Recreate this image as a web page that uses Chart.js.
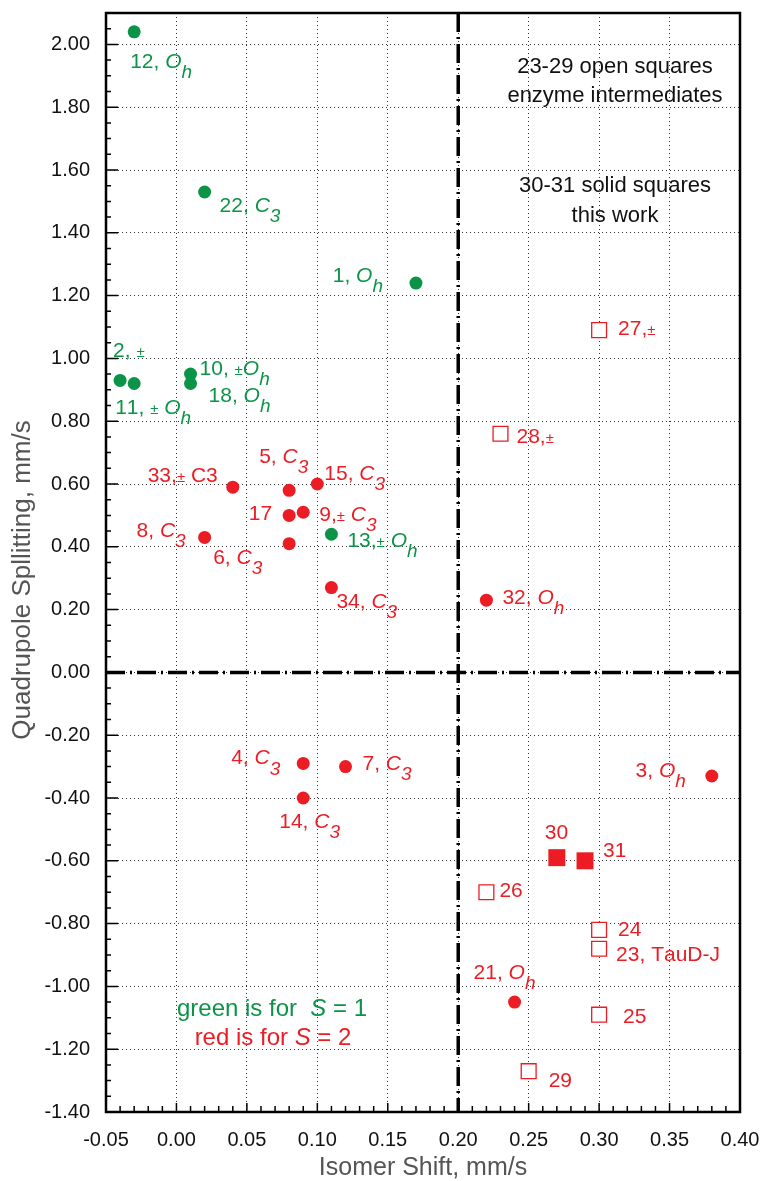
<!DOCTYPE html>
<html lang="en">
<head>
<meta charset="UTF-8">
<title>Isomer shift vs quadrupole splitting</title>
<script src="https://cdn.jsdelivr.net/npm/chart.js"></script>
<style>
  html, body { margin: 0; padding: 0; background: #fff; }
</style>
</head>
<body>
<canvas id="chart" width="762" height="1181"></canvas>
<script>
// ----------- data ------------
// S = 1 (green circles)
const greenIds = ['12', '22', '1', '2', '11', '10', '18', '13'];
const greenX = [-0.03, 0.02, 0.17, -0.04, -0.03, 0.01, 0.01, 0.11];
const greenY = [2.04, 1.53, 1.24, 0.93, 0.92, 0.95, 0.92, 0.44];
const greenLabels = ['12, ~O~_h', '22, ~C~_3', '1, ~O~_h', '2, ±', '11, ± ~O~_h', '10, ±~O~_h', '18, ~O~_h', '13,± ~O~_h'];

// S = 2 (red circles)
const redIds = ['33', '5', '15', '17', '9', '8', '6', '34', '32', '4', '7', '14', '3', '21'];
const redX = [0.04, 0.08, 0.10, 0.08, 0.09, 0.02, 0.08, 0.11, 0.22, 0.09, 0.12, 0.09, 0.38, 0.24];
const redY = [0.59, 0.58, 0.60, 0.50, 0.51, 0.43, 0.41, 0.27, 0.23, -0.29, -0.30, -0.40, -0.33, -1.05];
const redLabels = ['33,± C3', '5, ~C~_3', '15, ~C~_3', '17', '9,± ~C~_3', '8, ~C~_3', '6, ~C~_3', '34, ~C~_3',
    '32, ~O~_h', '4, ~C~_3', '7, ~C~_3', '14, ~C~_3', '3, ~O~_h', '21, ~O~_h'];

// enzyme intermediates (open squares)
const openIds = ['27', '28', '26', '24', '23', '25', '29'];
const openX = [0.30, 0.23, 0.22, 0.30, 0.30, 0.30, 0.25];
const openY = [1.09, 0.76, -0.70, -0.82, -0.88, -1.09, -1.27];
const openLabels = ['27,±', '28,±', '26', '24', '23, TauD-J', '25', '29'];

// this work (solid squares)
const solidIds = ['30', '31'];
const solidX = [0.27, 0.29];
const solidY = [-0.59, -0.60];
const solidLabels = ['30', '31'];

// dividing lines
const splitX = 0.20;
const splitY = 0.00;

// ----------- layout of the point labels (pixel offsets from the point) ------------
const labelPlacement = {
    '12': [-4, 36], '22': [15, 20], '1': [-33, -1, 'right'], '2': [-7, -23], '11': [-19, 30],
    '10': [9, 1], '18': [18, 18], '13': [16, 13],
    '33': [-15, -5, 'right'], '5': [-30, -27], '15': [7, -4], '17': [-17, 5, 'right'], '9': [16, 9],
    '8': [-19, 0, 'right'], '6': [-76, 20], '34': [5, 20], '32': [16, 4], '4': [-23, 1, 'right'],
    '7': [17, 3], '14': [-24, 30], '3': [-26, 1, 'right'], '21': [-41, -23],
    '27': [19, 5], '28': [16, 9], '26': [13, 5], '24': [19, 6], '23': [17, 12], '25': [24, 8], '29': [20, 16],
    '30': [-12, -19], '31': [18, -4]
};

const FONT = '"Liberation Sans", Arial, Helvetica, sans-serif';
const GREEN = '#0b9447';
const RED = '#ec1c24';

function toPoints(xs, ys) {
    return xs.map((x, i) => ({ x: x, y: ys[i] }));
}

// "~" toggles italic, "_" makes the next char an italic subscript, "±" is drawn small
function richParts(str) {
    const parts = [];
    let italic = false;
    for (let i = 0; i < str.length; i++) {
        let c = str[i];
        if (c === '~') { italic = !italic; continue; }
        let sub = false;
        if (c === '_') { sub = true; c = str[++i]; }
        parts.push({ c: c, italic: italic || sub, sub: sub, small: c === '±' });
    }
    return parts;
}

function drawRich(ctx, str, x, y, size, align) {
    const parts = richParts(str);
    const fontOf = p => (p.italic ? 'italic ' : '') +
        (p.small ? Math.round(size * 0.7) : p.sub ? Math.round(size * 0.9) : size) + 'px ' + FONT;
    let w = 0;
    parts.forEach(p => { ctx.font = fontOf(p); p.w = ctx.measureText(p.c).width; w += p.w; });
    let cx = align === 'right' ? x - w : align === 'center' ? x - w / 2 : x;
    ctx.textAlign = 'left';
    ctx.textBaseline = 'alphabetic';
    parts.forEach(p => {
        ctx.font = fontOf(p);
        ctx.fillText(p.c, cx, y + (p.sub ? size * 0.48 : 0));
        cx += p.w;
    });
}

const decorations = {
    id: 'decorations',
    beforeDatasetsDraw(chart) {
        const { ctx, chartArea: a, scales: { x, y } } = chart;
        const px = x.getPixelForValue(splitX);
        const py = y.getPixelForValue(splitY);
        ctx.save();
        ctx.strokeStyle = '#000';
        ctx.lineWidth = 3.5;
        ctx.setLineDash([19, 5, 2, 5]);
        ctx.beginPath();
        ctx.moveTo(px, a.top);
        ctx.lineTo(px, a.bottom);
        ctx.moveTo(a.left, py);
        ctx.lineTo(a.right, py);
        ctx.stroke();
        ctx.restore();
    },
    afterDatasetsDraw(chart) {
        const ctx = chart.ctx;
        ctx.save();
        chart.data.datasets.forEach((ds, di) => {
            const meta = chart.getDatasetMeta(di);
            ctx.fillStyle = ds.labelColor;
            meta.data.forEach((pt, i) => {
                const place = labelPlacement[ds.ids[i]] || [12, 6];
                drawRich(ctx, ds.pointLabels[i], pt.x + place[0], pt.y + place[1], 21, place[2] || 'left');
            });
        });

        // notes
        ctx.fillStyle = '#111';
        ctx.font = '22px ' + FONT;
        ctx.textAlign = 'center';
        ctx.textBaseline = 'alphabetic';
        ctx.fillText('23-29 open squares', 615, 73);
        ctx.fillText('enzyme intermediates', 615, 102);
        ctx.fillText('30-31 solid squares', 615, 192);
        ctx.fillText('this work', 615, 222);

        ctx.fillStyle = GREEN;
        drawRich(ctx, 'green is for  ~S~ = 1', 272, 1016, 24, 'center');
        ctx.fillStyle = RED;
        drawRich(ctx, 'red is for ~S~ = 2', 273, 1045, 24, 'center');
        ctx.restore();
    },
    afterDraw(chart) {
        const { ctx, chartArea: a, scales: { x, y } } = chart;
        ctx.save();
        // inner tick marks
        ctx.strokeStyle = '#000';
        ctx.lineWidth = 1.5;
        ctx.beginPath();
        for (let i = -5; i <= 40; i++) {
            const px = x.getPixelForValue(i / 100);
            ctx.moveTo(px, a.bottom);
            ctx.lineTo(px, a.bottom - (i % 5 === 0 ? 9 : 6));
        }
        for (let j = -28; j <= 42; j++) {
            const py = y.getPixelForValue(j * 0.05);
            ctx.moveTo(a.left, py);
            ctx.lineTo(a.left + (j % 4 === 0 ? 12 : 5), py);
        }
        ctx.stroke();
        // frame
        ctx.lineWidth = 2.5;
        ctx.strokeRect(a.left, a.top, a.right - a.left, a.bottom - a.top);
        // y axis title
        ctx.translate(23, 580);
        ctx.rotate(-Math.PI / 2);
        ctx.fillStyle = '#555';
        ctx.font = '26px ' + FONT;
        ctx.textAlign = 'center';
        ctx.textBaseline = 'middle';
        ctx.fillText('Quadrupole Spllitting, mm/s', 0, 0);
        ctx.restore();
    }
};

const fmt = v => (Math.abs(v) < 1e-9 ? 0 : v).toFixed(2);

new Chart(document.getElementById('chart').getContext('2d'), {
    type: 'scatter',
    data: {
        datasets: [
            {
                data: toPoints(greenX, greenY), ids: greenIds, pointLabels: greenLabels, labelColor: GREEN,
                pointStyle: 'circle', pointRadius: 6.5, backgroundColor: GREEN, borderWidth: 0
            },
            {
                data: toPoints(redX, redY), ids: redIds, pointLabels: redLabels, labelColor: RED,
                pointStyle: 'circle', pointRadius: 6.5, backgroundColor: RED, borderWidth: 0
            },
            {
                data: toPoints(openX, openY), ids: openIds, pointLabels: openLabels, labelColor: RED,
                pointStyle: 'rect', pointRadius: 10.5, backgroundColor: '#fff', borderColor: RED, borderWidth: 1.3
            },
            {
                data: toPoints(solidX, solidY), ids: solidIds, pointLabels: solidLabels, labelColor: RED,
                pointStyle: 'rect', pointRadius: 12, backgroundColor: RED, borderWidth: 0
            }
        ]
    },
    options: {
        responsive: false,
        animation: false,
        devicePixelRatio: 1,
        layout: { padding: { top: 13, right: 22, left: 0, bottom: 0 } },
        plugins: {
            legend: { display: false },
            tooltip: { enabled: false }
        },
        scales: {
            x: {
                type: 'linear',
                min: -0.05,
                max: 0.40,
                afterFit: s => { s.height = 69; s.paddingLeft = 0; s.paddingRight = 0; },
                ticks: {
                    stepSize: 0.05, callback: fmt, autoSkip: false, maxRotation: 0,
                    font: { family: FONT, size: 20 }, color: '#111', padding: 16
                },
                grid: { color: '#333', lineWidth: 1, drawTicks: false },
                border: { display: false, dash: [1, 3] },
                title: {
                    display: true, text: 'Isomer Shift, mm/s', color: '#555',
                    font: { family: FONT, size: 25, lineHeight: 1 }, padding: 0
                }
            },
            y: {
                type: 'linear',
                min: -1.4,
                max: 2.1,
                afterFit: s => { s.width = 106; s.paddingTop = 0; s.paddingBottom = 0; },
                ticks: {
                    stepSize: 0.2, autoSkip: false,
                    callback: v => (v > 2.05 ? '' : fmt(v)),
                    font: { family: FONT, size: 20 }, color: '#111', padding: 16
                },
                grid: { color: '#333', lineWidth: 1, drawTicks: false },
                border: { display: false, dash: [1, 3] }
            }
        }
    },
    plugins: [decorations]
});
</script>
</body>
</html>
